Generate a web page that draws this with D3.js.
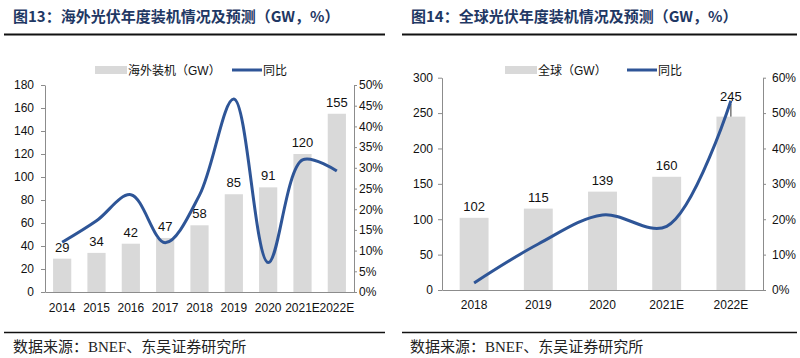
<!DOCTYPE html>
<html><head><meta charset="utf-8">
<script src="https://cdn.jsdelivr.net/npm/d3@7"></script>
<style>body{margin:0;background:#fff;} svg{display:block;}</style>
</head><body><svg id="c" width="800" height="358"></svg>
<script>
// ---- data ----
const leftTitle = "图13：海外光伏年度装机情况及预测（GW，%）";
const leftYears = ["2014","2015","2016","2017","2018","2019","2020","2021E","2022E"];
const leftInstall = [29, 34, 42, 47, 58, 85, 91, 120, 155];
const leftYoY = [12, 17.2, 23.5, 11.9, 23.4, 46.6, 7.1, 31.9, 29.2];
const leftBarTicks = [0,20,40,60,80,100,120,140,160,180];
const leftPctTicks = [0,5,10,15,20,25,30,35,40,45,50];
const leftBarName = "海外装机（GW）";

const rightTitle = "图14：全球光伏年度装机情况及预测（GW，%）";
const rightYears = ["2018","2019","2020","2021E","2022E"];
const rightInstall = [102, 115, 139, 160, 245];
const rightYoY = [2, 13, 21.2, 18, 53.5];
const rightBarTicks = [0,50,100,150,200,250,300];
const rightPctTicks = [0,10,20,30,40,50,60];
const rightBarName = "全球（GW）";

const lineName = "同比";
const sourceText = "数据来源：BNEF、东吴证券研究所";

// ---- style ----
const FONT = "'Liberation Sans', Arial, 'Noto Sans CJK SC', sans-serif";
const BAR = "#d9d9d9", LINE = "#2e5597", AXIS = "#8c8c8c", TITLE = "#1f3864";
const svg = d3.select("#c");

function panel(cfg) {
  const g = svg.append("g");
  g.append("text").attr("x", cfg.titleX).attr("y", 22)
    .attr("font-family", "'Noto Sans CJK SC', sans-serif").attr("font-weight", 700)
    .attr("font-size", 15).attr("fill", TITLE).text(cfg.title);
  g.append("line").attr("x1", cfg.ruleX0).attr("x2", cfg.ruleX1).attr("y1", 34.5).attr("y2", 34.5)
    .attr("stroke", "#111").attr("stroke-width", 2);
  g.append("line").attr("x1", cfg.ruleX0).attr("x2", cfg.ruleX1).attr("y1", 332.5).attr("y2", 332.5)
    .attr("stroke", "#111").attr("stroke-width", 1.5);
  g.append("text").attr("x", cfg.srcX).attr("y", 352)
    .attr("font-family", "'Liberation Serif', 'Noto Sans CJK SC', serif")
    .attr("font-size", 15).attr("fill", "#222").text(sourceText);

  const x = d3.scaleBand().domain(cfg.cats).range([cfg.x0, cfg.x1]);
  const y = d3.scaleLinear().domain([0, cfg.barTicks[cfg.barTicks.length-1]]).range([cfg.yB, cfg.yT]);
  const y2 = d3.scaleLinear().domain([0, cfg.pctTicks[cfg.pctTicks.length-1]]).range([cfg.yB, cfg.yT]);
  const bw = x.bandwidth() * cfg.barFrac;

  // bars
  g.selectAll("rect.bar").data(cfg.cats).join("rect").attr("class","bar")
    .attr("x", d => x(d) + (x.bandwidth()-bw)/2).attr("width", bw)
    .attr("y", (d,i) => y(cfg.values[i])).attr("height", (d,i) => cfg.yB - y(cfg.values[i]))
    .attr("fill", BAR);

  // axes
  const ax = g.append("g").attr("transform", `translate(${cfg.x0},0)`)
    .call(d3.axisLeft(y).tickValues(cfg.barTicks).tickSize(4).tickPadding(cfg.lPad).tickSizeOuter(0));
  const ax2 = g.append("g").attr("transform", `translate(${cfg.x1},0)`)
    .call(d3.axisRight(y2).tickValues(cfg.pctTicks).tickSize(3).tickPadding(cfg.rPad).tickSizeOuter(0)
      .tickFormat(d => d + "%"));
  const axb = g.append("g").attr("transform", `translate(0,${cfg.yB})`)
    .call(d3.axisBottom(x).tickSize(0).tickPadding(cfg.bPad).tickSizeOuter(0));
  [ax, ax2, axb].forEach(a => {
    a.select(".domain").attr("stroke", AXIS);
    a.selectAll(".tick line").attr("stroke", AXIS);
    a.selectAll("text").attr("font-family", FONT).attr("font-size", 12).attr("fill", "#111");
  });

  // value labels
  g.selectAll("text.vl").data(cfg.cats).join("text").attr("class","vl")
    .attr("x", d => x(d) + x.bandwidth()/2)
    .attr("y", (d,i) => cfg.labelY && cfg.labelY[i] != null ? cfg.labelY[i] : y(cfg.values[i]) - 7)
    .attr("text-anchor", "middle").attr("font-family", FONT).attr("font-size", 13).attr("fill", "#111")
    .text((d,i) => cfg.values[i]);
  if (cfg.leader != null) {
    const d = cfg.cats[cfg.leader];
    const cx = x(d) + x.bandwidth()/2;
    g.append("line").attr("x1", cx).attr("x2", cx)
      .attr("y1", cfg.labelY[cfg.leader] + 3).attr("y2", y(cfg.values[cfg.leader]))
      .attr("stroke", "#333").attr("stroke-width", 1);
  }

  // line
  const line = d3.line().x((d,i) => x(cfg.cats[i]) + x.bandwidth()/2).y(d => y2(d))
    .curve(d3.curveCatmullRom.alpha(0.5));
  g.append("path").datum(cfg.yoy).attr("d", line).attr("fill", "none")
    .attr("stroke", LINE).attr("stroke-width", 3);

  // legend
  const lg = g.append("g").attr("font-family", FONT).attr("font-size", 12).attr("fill", "#111");
  lg.append("rect").attr("x", cfg.legX).attr("y", 66).attr("width", 32).attr("height", 8).attr("fill", BAR);
  const t1 = lg.append("text").attr("x", cfg.legX + 33).attr("y", 74.5).text(cfg.barName);
  lg.append("line").attr("x1", cfg.legX2).attr("x2", cfg.legX2 + 30).attr("y1", 70).attr("y2", 70)
    .attr("stroke", LINE).attr("stroke-width", 3);
  lg.append("text").attr("x", cfg.legX2 + 31).attr("y", 74.5).text(lineName);
}

panel({
  title: leftTitle, titleX: 13, ruleX0: 4, ruleX1: 385, srcX: 13,
  cats: leftYears, values: leftInstall, yoy: leftYoY,
  barTicks: leftBarTicks, pctTicks: leftPctTicks, barName: leftBarName,
  x0: 45, x1: 354, yB: 292, yT: 85, barFrac: 0.53,
  lPad: 7, rPad: 2, bPad: 11, legX: 95, legX2: 232
});
panel({
  title: rightTitle, titleX: 411, ruleX0: 402, ruleX1: 797, srcX: 410,
  cats: rightYears, values: rightInstall, yoy: rightYoY,
  barTicks: rightBarTicks, pctTicks: rightPctTicks, barName: rightBarName,
  x0: 442, x1: 763, yB: 290, yT: 77.7, barFrac: 0.45,
  lPad: 5, rPad: 6, bPad: 10, legX: 505, legX2: 627,
  labelY: [null, null, null, null, 101], leader: 4
});
</script>
</body></html>
